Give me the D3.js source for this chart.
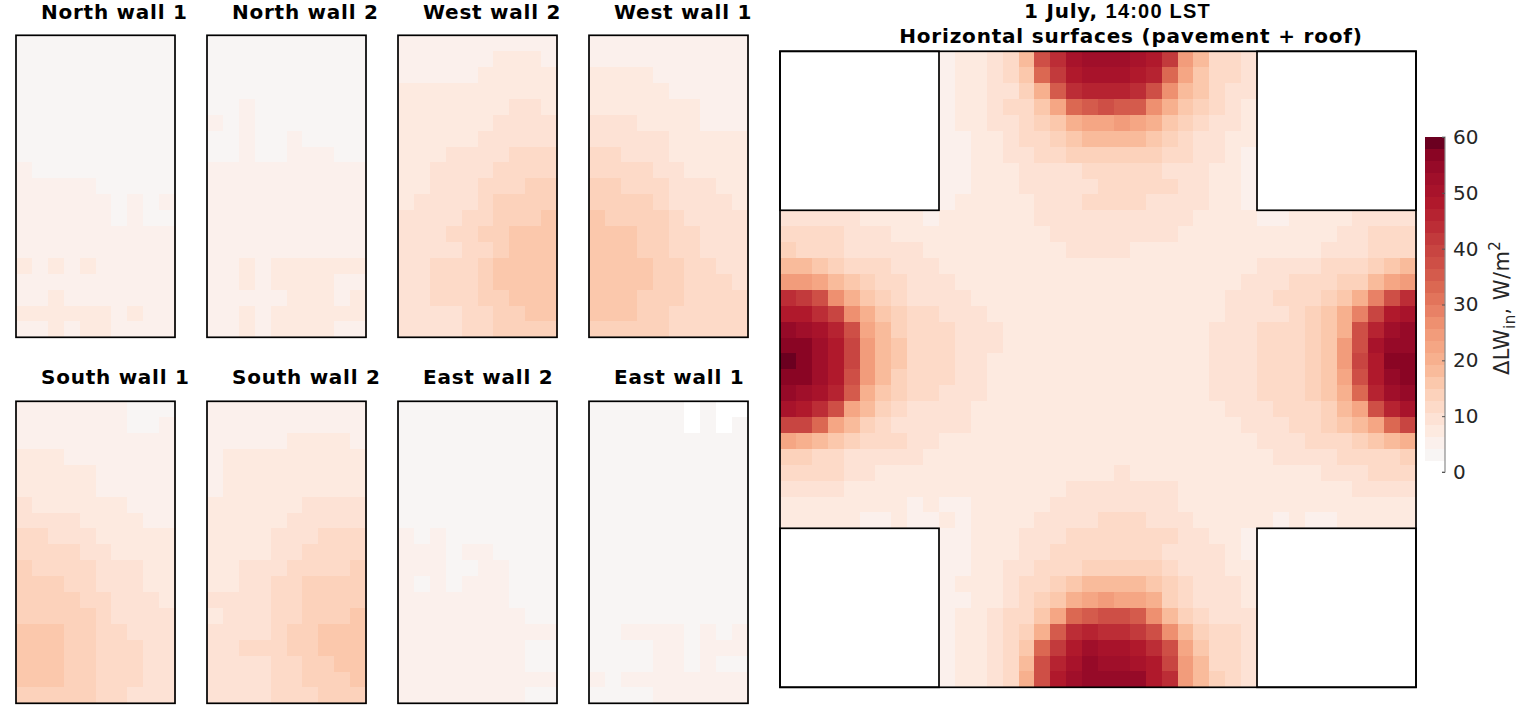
<!DOCTYPE html>
<html><head><meta charset="utf-8">
<script src="https://cdn.jsdelivr.net/npm/d3@7"></script>
<style>
html,body{margin:0;padding:0;background:#fff;overflow:hidden}
text{font-family:"DejaVu Sans",sans-serif}
</style></head><body>
<script>
// Values in W/m² (mid-value of each colour band)
const wallTitles = ["North wall 1","North wall 2","West wall 2","West wall 1","South wall 1","South wall 2","East wall 2","East wall 1"];
const colorTicks = [0,10,20,30,40,50,60];
const northWall1 = [
[3,3,3,3,3,3,3,3,3,3],[3,3,3,3,3,3,3,3,3,3],[3,3,3,3,3,3,3,3,3,3],[3,3,3,3,3,3,3,3,3,3],
[3,3,3,3,3,3,3,3,3,3],[3,3,3,3,3,3,3,3,3,3],[3,3,3,3,3,3,3,3,3,3],[3,3,3,3,3,3,3,3,3,3],
[5,3,3,3,3,3,3,3,3,3],[5,5,5,5,5,3,3,3,3,3],[5,5,5,5,5,5,3,5,3,5],[5,5,5,5,5,5,3,5,3,3],
[5,5,5,5,5,5,5,5,5,5],[5,5,5,5,5,5,5,5,5,5],[8,5,8,5,8,5,5,5,5,5],[5,5,5,5,5,5,5,5,5,5],
[5,5,8,5,5,5,5,5,5,5],[8,8,8,8,8,8,5,8,5,5],[5,5,8,5,8,8,5,5,5,5]];
const northWall2 = [
[3,3,3,3,3,3,3,3,3,3],[3,3,3,3,3,3,3,3,3,3],[3,3,3,3,3,3,3,3,3,3],[3,3,3,3,3,3,3,3,3,3],
[3,3,5,3,3,3,3,3,3,3],[5,3,5,3,3,3,3,3,3,3],[3,3,5,3,3,5,3,3,3,3],[3,3,5,3,3,5,5,5,3,3],
[5,5,5,5,5,5,5,5,5,5],[5,5,5,5,5,5,5,5,5,5],[5,5,5,5,5,5,5,5,5,5],[5,5,5,5,5,5,5,5,5,5],
[5,5,5,5,5,5,5,5,5,5],[5,5,5,5,5,5,5,5,5,5],[5,5,8,5,8,8,8,8,8,8],[5,5,8,5,8,8,8,8,5,5],
[5,5,5,5,5,8,8,8,5,8],[5,5,8,5,8,8,8,8,8,8],[5,5,8,5,8,8,8,8,5,5]];
const westWall2 = [
[5,5,5,5,5,5,5,5,5,5],[5,5,5,5,5,5,8,8,8,5],[5,5,5,5,5,8,8,8,8,8],[8,8,8,8,8,8,8,8,8,8],
[8,8,8,8,8,8,8,10,10,8],[8,8,8,8,8,8,10,10,10,10],[8,8,8,8,8,10,10,10,10,10],[8,8,8,10,10,10,10,12,12,12],
[8,8,10,10,10,10,12,12,12,12],[8,8,10,10,10,12,12,12,14,14],[8,10,10,10,10,12,14,14,14,14],[10,10,10,10,12,12,14,14,14,16],
[10,10,10,12,12,14,14,16,16,16],[10,10,10,10,12,12,14,16,16,16],[10,10,12,12,12,14,16,16,16,16],[10,10,12,12,12,14,16,16,16,16],
[10,10,12,12,12,14,14,16,16,16],[10,10,10,10,12,12,14,14,16,16],[10,10,10,10,12,12,14,14,14,14]];
const westWall1 = [
[5,5,5,5,5,5,5,5,5,5],[5,5,5,5,5,5,5,5,5,5],[8,8,8,8,5,5,5,5,5,5],[8,8,8,8,8,5,5,5,5,5],
[8,8,8,8,8,8,8,5,5,5],[10,10,10,8,8,8,8,5,5,5],[10,10,10,10,10,8,8,8,8,8],[12,12,10,10,10,8,8,8,8,8],
[12,12,12,12,10,10,8,8,8,8],[14,14,12,12,12,10,10,10,8,8],[14,14,14,14,12,10,10,10,10,8],[16,14,14,14,14,12,10,10,10,10],
[16,16,16,14,14,12,12,10,10,10],[16,16,16,14,14,12,12,10,10,10],[16,16,16,16,14,14,12,12,10,10],[16,16,16,16,14,14,12,12,12,10],
[16,16,16,14,14,14,12,12,12,12],[16,16,16,14,14,12,12,12,12,12],[14,14,14,14,14,12,12,12,12,12]];
const southWall1 = [
[5,5,5,5,5,5,5,3,3,3],[5,5,5,5,5,5,5,3,3,5],[5,5,5,5,5,5,5,5,5,5],[8,8,8,5,5,5,5,5,5,5],
[8,8,8,8,8,5,5,5,5,5],[8,8,8,8,8,5,5,5,5,5],[10,8,8,8,8,8,8,5,5,5],[10,10,10,10,8,8,8,8,5,5],
[12,12,10,10,10,8,8,8,8,8],[12,12,12,12,10,10,8,8,8,8],[14,12,12,12,12,10,10,10,8,8],[14,14,14,12,12,10,10,10,8,8],
[14,14,14,14,12,12,10,10,10,8],[14,14,14,14,14,12,10,10,10,10],[16,16,16,14,14,12,12,10,10,10],[16,16,16,14,14,12,12,12,10,10],
[16,16,16,14,14,12,12,12,10,10],[16,16,16,14,14,12,12,12,10,10],[14,14,14,14,14,12,12,10,10,10]];
const southWall2 = [
[5,5,5,5,5,5,5,5,5,5],[5,5,5,5,5,5,5,5,5,5],[5,5,5,5,5,8,8,8,8,5],[5,8,8,8,8,8,8,8,8,8],
[5,8,8,8,8,8,8,8,8,8],[5,8,8,8,8,8,8,8,8,8],[8,8,8,8,8,8,10,10,10,10],[8,8,8,8,8,10,10,10,10,10],
[8,8,8,8,10,10,10,12,12,12],[8,8,8,8,10,10,12,12,12,12],[8,8,10,10,10,12,12,12,12,14],[8,8,10,10,12,12,14,14,14,14],
[10,10,10,10,12,12,14,14,14,14],[8,10,10,10,12,12,14,14,14,16],[10,10,10,10,12,14,14,16,16,16],[10,10,12,12,12,14,14,16,16,16],
[10,10,10,10,12,12,14,14,16,16],[10,10,10,10,12,12,14,14,14,16],[10,10,10,10,12,12,12,14,14,14]];
const eastWall2 = [
[3,3,3,3,3,3,3,3,3,3],[3,3,3,3,3,3,3,3,3,3],[3,3,3,3,3,3,3,3,3,3],[3,3,3,3,3,3,3,3,3,3],
[3,3,3,3,3,3,3,3,3,3],[3,3,3,3,3,3,3,3,3,3],[3,3,3,3,3,3,3,3,3,3],[3,3,3,3,3,3,3,3,3,3],
[5,3,5,3,3,3,3,3,3,3],[5,5,5,3,5,5,3,3,3,3],[5,5,5,3,3,5,5,3,3,3],[5,3,5,3,5,5,5,3,3,3],
[5,5,5,5,5,5,5,3,3,3],[5,5,5,5,5,5,5,5,3,3],[5,5,5,5,5,5,5,5,5,5],[5,5,5,5,5,5,5,5,3,3],
[5,5,5,5,5,5,5,5,3,3],[5,5,5,5,5,5,5,5,5,5],[5,5,5,5,5,5,5,5,3,3]];
const eastWall1 = [
[3,3,3,3,3,3,1,3,1,1],[3,3,3,3,3,3,1,3,1,3],[3,3,3,3,3,3,3,3,3,3],[3,3,3,3,3,3,3,3,3,3],
[3,3,3,3,3,3,3,3,3,3],[3,3,3,3,3,3,3,3,3,3],[3,3,3,3,3,3,3,3,3,3],[3,3,3,3,3,3,3,3,3,3],
[3,3,3,3,3,3,3,3,3,3],[3,3,3,3,3,3,3,3,3,3],[3,3,3,3,3,3,3,3,3,3],[3,3,3,3,3,3,3,3,3,3],
[3,3,3,3,3,3,3,3,3,3],[3,3,3,3,3,3,3,3,3,3],[3,3,5,5,5,5,3,5,3,5],[3,3,3,3,5,5,3,5,5,5],
[3,3,3,3,5,5,3,5,3,3],[5,3,5,5,5,5,5,5,5,5],[3,3,3,3,5,5,5,5,5,5]];
// Horizontal surfaces: northern street arm (rows 0-9, central 20 columns)
const northArm = [
[5,8,8,10,12,18,38,44,50,53,53,53,50,48,42,25,18,12,12,10],
[5,8,8,10,12,16,33,42,48,50,50,50,48,46,33,23,16,12,12,10],
[5,8,8,10,10,14,20,35,44,46,46,46,44,38,27,18,16,12,10,10],
[5,8,8,10,12,12,16,23,33,35,38,35,35,27,20,16,14,12,10,8],
[5,8,8,10,10,12,14,16,20,23,23,25,23,20,16,14,12,10,10,8],
[5,5,8,8,10,12,12,14,16,18,18,18,18,16,14,12,10,10,8,8],
[5,5,8,8,10,10,12,12,14,14,14,14,14,14,12,12,10,10,8,5],
[5,5,8,8,8,10,10,10,10,12,12,12,12,12,10,10,10,8,8,5],
[5,5,8,8,8,10,10,10,10,10,12,12,12,12,12,10,10,8,8,5],
[5,8,8,8,8,8,10,10,10,12,12,12,12,10,10,10,10,8,8,5]];
// Cross street (rows 10-29, all 40 columns)
const crossStreet = [
[10,10,10,10,10,8,8,8,8,5,8,8,8,8,8,8,10,10,10,10,10,10,10,10,10,10,8,8,8,8,5,5,8,8,8,8,10,10,10,10],
[12,12,12,12,10,10,10,8,8,8,8,8,8,8,8,8,8,10,10,10,10,10,10,10,10,8,8,8,8,8,8,8,8,8,8,10,10,12,12,12],
[14,12,12,12,10,10,10,10,10,8,8,8,8,8,8,8,8,8,10,10,10,10,8,8,8,8,8,8,8,8,8,8,8,8,10,10,10,12,12,12],
[18,18,16,14,12,12,12,10,10,10,8,8,8,8,8,8,8,8,8,8,8,8,8,8,8,8,8,8,8,8,10,10,10,10,12,12,12,14,16,18],
[25,25,23,18,16,14,12,12,10,10,10,8,8,8,8,8,8,8,8,8,8,8,8,8,8,8,8,8,8,10,10,10,12,12,12,14,14,18,23,25],
[44,42,38,27,20,16,14,12,10,10,10,10,8,8,8,8,8,8,8,8,8,8,8,8,8,8,8,8,10,10,10,12,12,12,14,16,20,29,38,44],
[48,48,44,40,27,20,16,14,12,12,10,10,10,8,8,8,8,8,8,8,8,8,8,8,8,8,8,8,10,10,10,10,12,14,16,20,29,40,48,50],
[55,53,50,46,38,23,18,14,12,12,12,10,10,10,8,8,8,8,8,8,8,8,8,8,8,8,8,10,10,10,12,12,12,14,16,20,38,46,53,55],
[57,57,53,48,40,25,18,16,12,12,12,10,10,10,8,8,8,8,8,8,8,8,8,8,8,8,8,10,10,10,12,12,12,14,16,25,38,50,55,55],
[59,57,53,48,40,25,18,16,12,12,12,10,10,8,8,8,8,8,8,8,8,8,8,8,8,8,8,10,10,10,12,12,12,14,16,25,40,48,57,57],
[57,57,53,48,38,25,18,14,12,12,12,10,10,8,8,8,8,8,8,8,8,8,8,8,8,8,8,10,10,10,12,12,12,14,16,23,38,48,55,57],
[55,53,50,46,35,20,16,14,12,12,10,10,10,8,8,8,8,8,8,8,8,8,8,8,8,8,8,10,10,10,12,12,12,14,16,20,33,46,53,55],
[50,48,44,38,23,18,14,12,10,10,10,10,8,8,8,8,8,8,8,8,8,8,8,8,8,8,8,8,10,10,10,12,12,12,14,18,23,38,46,50],
[40,40,33,23,18,14,12,10,10,10,10,10,8,8,8,8,8,8,8,8,8,8,8,8,8,8,8,8,8,10,10,10,12,12,14,16,18,23,33,40],
[23,20,18,16,14,12,12,12,10,10,8,8,8,8,8,8,8,8,8,8,8,8,8,8,8,8,8,8,8,8,10,10,10,12,12,12,14,16,18,20],
[14,14,12,12,10,10,10,10,10,8,8,8,8,8,8,8,8,8,8,8,8,8,8,8,8,8,8,8,8,8,8,10,10,10,10,12,12,12,12,14],
[12,12,12,12,10,10,8,8,8,8,8,8,8,8,8,8,8,8,8,8,8,10,8,8,8,8,8,8,8,8,8,8,8,8,10,10,10,12,12,12],
[10,10,10,10,8,8,8,8,8,8,8,8,8,8,8,8,8,8,10,10,10,10,10,10,10,8,8,8,8,8,8,8,8,8,8,8,10,10,10,10],
[8,8,8,8,8,8,8,8,5,8,5,5,8,8,8,8,8,10,10,10,10,10,10,10,10,8,8,8,8,8,8,8,8,8,8,8,8,8,8,8],
[8,8,8,8,8,5,5,8,5,5,8,5,8,8,8,8,10,10,10,10,12,12,12,10,10,10,8,8,8,8,8,5,8,5,5,8,8,8,8,8]];
// Southern street arm (rows 30-39, central 20 columns)
const southArm = [
[5,5,8,8,8,10,10,10,12,12,12,12,12,12,12,10,10,8,8,5],
[5,5,8,8,8,10,10,12,12,12,12,12,12,12,10,10,10,10,8,5],
[5,5,8,8,10,10,12,12,12,14,14,14,14,14,12,10,10,10,8,8],
[5,8,8,8,10,12,12,14,16,18,18,18,18,16,14,12,10,10,10,8],
[5,5,8,8,10,12,14,16,20,23,25,23,23,20,14,12,10,10,10,8],
[5,8,8,10,12,12,16,23,33,35,38,38,35,27,18,14,12,10,10,10],
[5,8,8,10,12,14,20,35,44,46,44,44,42,38,27,18,14,12,12,10],
[5,8,8,10,12,16,33,42,48,53,50,50,48,44,38,23,16,12,12,10],
[5,8,8,10,12,18,38,46,50,55,53,53,50,48,40,25,18,12,12,10],
[5,8,8,10,12,20,38,48,53,55,55,55,55,48,44,25,18,14,12,10]];
// 28 colour bands on 0–60, the lowest white
const bandColors = ["#ffffff","#f8f5f4","#fbf0ec","#fdeae0","#fde2d5","#fddac8","#fcd2bb","#fbc8ac","#f9bb9b","#f7b08e",
"#f5a684","#f29c7b","#ee9070","#e88166","#e2745b","#db6852","#d45b4c","#ce4f46","#c84541","#c23a3c",
"#bc2d36","#b62331","#b0192c","#a8132b","#a00f2a","#960a28","#8a0524","#6b0020"];

const W=1520,H=705;
const svg=d3.select("body").append("svg").attr("width",W).attr("height",H).style("display","block");

const N=bandColors.length;
const color=d3.scaleQuantize().domain([0,60]).range(bandColors);

function heat(x0,y0,w,h,grid){
  const nr=grid.length,nc=grid[0].length;
  const x=d3.scaleBand().domain(d3.range(nc)).range([x0,x0+w]);
  const y=d3.scaleBand().domain(d3.range(nr)).range([y0,y0+h]);
  const cells=grid.flatMap((row,r)=>row.map((v,c)=>({r,c,v}))).filter(d=>d.v!==null);
  const g=svg.append("g").attr("shape-rendering","crispEdges");
  g.selectAll("rect").data(cells).join("rect")
    .attr("x",d=>x(d.c)).attr("y",d=>y(d.r))
    .attr("width",x.bandwidth()+0.5).attr("height",y.bandwidth()+0.5)
    .attr("fill",d=>color(d.v));
  return {x,y};
}
function frame(x,y,w,h){
  svg.append("rect").attr("x",x).attr("y",y).attr("width",w).attr("height",h)
    .attr("fill","none").attr("stroke","#000").attr("stroke-width",1.7);
}

// Wall panels
const walls=[northWall1,northWall2,westWall2,westWall1,southWall1,southWall2,eastWall2,eastWall1];
const panelX=[16,207,398,589], panelY=[35.3,401.3], panelW=159, panelH=302;
const titleX=[41,232,423,614], titleY=[18.5,384];
walls.forEach((grid,i)=>{
  const px=panelX[i%4],py=panelY[i<4?0:1];
  heat(px,py,panelW,panelH,grid);
  frame(px,py,panelW,panelH);
  svg.append("text").attr("x",titleX[i%4]).attr("y",titleY[i<4?0:1])
    .attr("font-size",20).attr("letter-spacing",0.75).attr("font-weight","bold").attr("fill","#000").text(wallTitles[i]);
});

// Main panel
const pad=Array(10).fill(null);
const mainGrid=[
  ...northArm.map(r=>[...pad,...r,...pad]),
  ...crossStreet,
  ...southArm.map(r=>[...pad,...r,...pad])];
const mx=780,my=51.3,ms=636;
const {x:mX,y:mY}=heat(mx,my,ms,ms,mainGrid);
frame(mx,my,ms,ms);
[[0,0],[30,0],[0,30],[30,30]].forEach(([c,r])=>frame(mX(c),mY(r),mX.bandwidth()*10,mY.bandwidth()*10));

const t1=svg.append("text").attr("x",1117.5).attr("y",18).attr("text-anchor","middle")
  .attr("font-size",20).attr("font-weight","bold").attr("fill","#000");
t1.append("tspan").attr("letter-spacing",0.75).text("1 July, ");
t1.append("tspan").attr("font-family","Liberation Sans").attr("letter-spacing",1.2).text("14:00 LST");
svg.append("text").attr("x",1131).attr("y",42.5).attr("text-anchor","middle")
  .attr("font-size",20).attr("letter-spacing",0.8).attr("font-weight","bold").attr("fill","#000").text("Horizontal surfaces (pavement + roof)");

// Colour bar
const cbX=1425,cbW=20,cbTop=137,cbBot=472;
const cbScale=d3.scaleLinear().domain([0,60]).range([cbBot,cbTop]);
const cb=svg.append("g").attr("shape-rendering","crispEdges");
cb.selectAll("rect").data(d3.range(N)).join("rect")
  .attr("x",cbX).attr("width",cbW)
  .attr("y",i=>cbScale((i+1)*60/N)).attr("height",i=>cbScale(i*60/N)-cbScale((i+1)*60/N)+0.5)
  .attr("fill",i=>bandColors[i]);
const axis=d3.axisRight(cbScale).tickValues(colorTicks).tickSize(-3).tickPadding(8);
const ag=svg.append("g").attr("transform",`translate(${cbX+cbW},0)`).call(axis);
ag.select(".domain").attr("stroke","#8c8c8c").attr("stroke-width",1.2).attr("d",`M-3,${cbBot}H0V${cbTop}H-3`);
ag.selectAll(".tick line").attr("stroke","#555");
ag.selectAll(".tick text").attr("font-size",20).attr("font-family","DejaVu Sans").attr("fill","#262626");

const lab=svg.append("text").attr("transform","translate(1509,375) rotate(-90)")
  .attr("font-size",21).attr("letter-spacing",0.4).attr("fill","#262626");
lab.append("tspan").text("\u0394LW");
lab.append("tspan").attr("font-size",15).attr("dy",6).text("in");
lab.append("tspan").attr("dy",-6).text(", W/m");
lab.append("tspan").attr("font-size",15).attr("dy",-9).text("2");
</script>
</body></html>
